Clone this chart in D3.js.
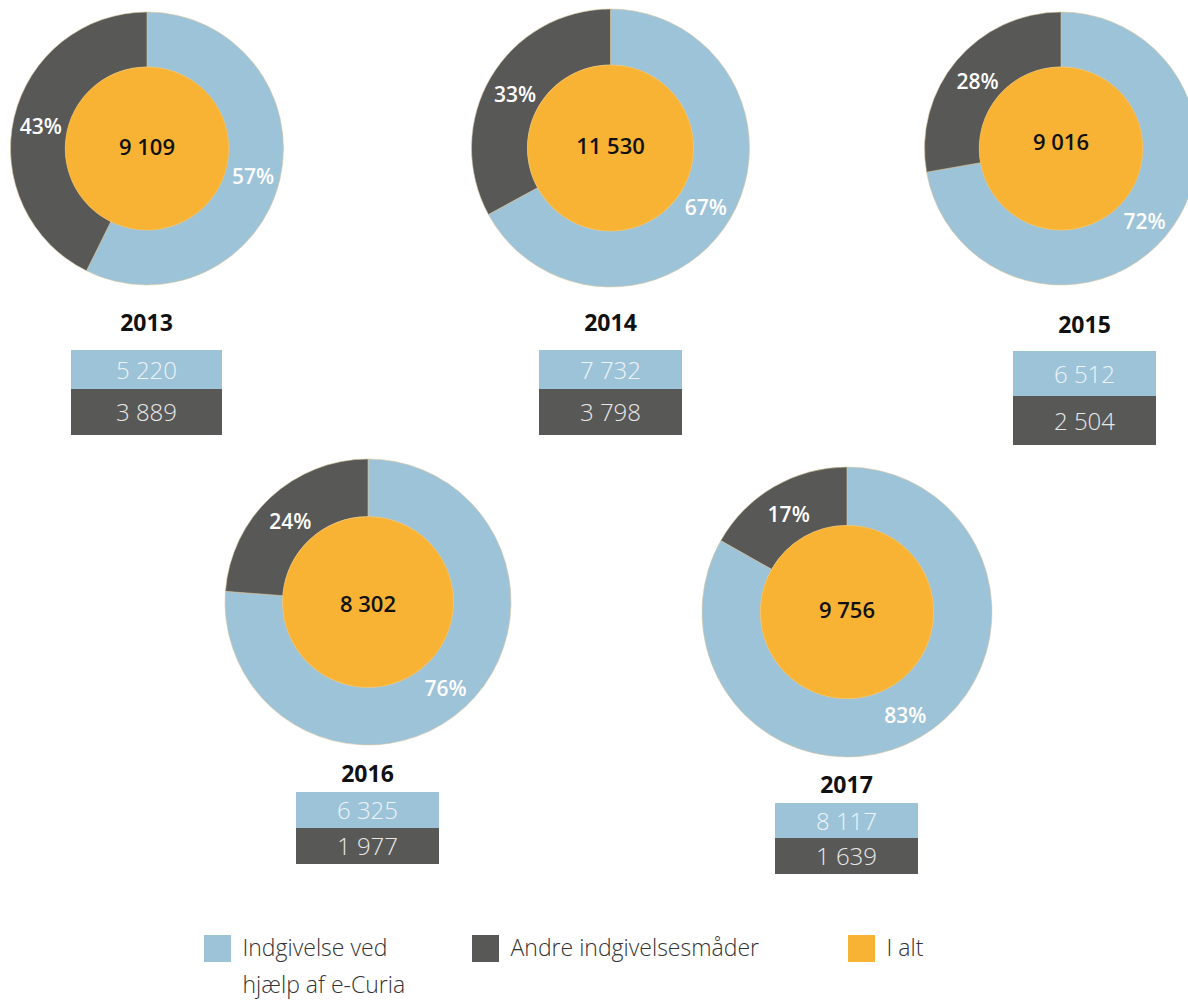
<!DOCTYPE html>
<html>
<head>
<meta charset="utf-8">
<script src="https://cdn.jsdelivr.net/npm/d3@7"></script>
<style>
  body { margin: 0; background: #fff; }
  text { font-family: "Open Sans", "Noto Sans", sans-serif; }
</style>
</head>
<body>
<div id="chart"></div>
<script>
// data
const years = ["2013", "2014", "2015", "2016", "2017"];
const ecuria = [5220, 7732, 6512, 6325, 8117];
const other = [3889, 3798, 2504, 1977, 1639];
const totals = [9109, 11530, 9016, 8302, 9756];
const legendLabels = [["Indgivelse ved", "hjælp af e-Curia"], ["Andre indgivelsesmåder"], ["I alt"]];

const colors = { ecuria: "#9dc3d9", other: "#585857", total: "#f8b334" };

// where each donut + little table sits (no = nudge of the centre number)
const layout = [
    { cx: 147, cy: 148.5, r: 136.5, no: -1, tx: 71, tw: 151, yearY: 331, ty: 350, h1: 39, h2: 46 },
    { cx: 610.5, cy: 148, r: 139, no: -2, tx: 539, tw: 143, yearY: 331, ty: 350, h1: 39, h2: 46 },
    { cx: 1061, cy: 148.5, r: 136.5, no: -6, tx: 1013, tw: 143, yearY: 333, ty: 351, h1: 45, h2: 49 },
    { cx: 368, cy: 602, r: 143, no: 2, tx: 296, tw: 143, yearY: 782, ty: 792, h1: 36, h2: 36 },
    { cx: 847, cy: 612, r: 145, no: -1.5, tx: 775, tw: 143, yearY: 793, ty: 803, h1: 35, h2: 36 }
];

const width = 1188, height = 1000;
const loc = d3.formatLocale({ decimal: ",", thousands: " ", grouping: [3], currency: ["", ""] });
const fmt = loc.format(",d");

const svg = d3.select("#chart").append("svg")
    .attr("width", width)
    .attr("height", height);

const pie = d3.pie().sort(null).value(d => d.v);

years.forEach(function (yr, i) {
    let L = layout[i];
    let inner = L.r * 0.597;
    let g = svg.append("g").attr("transform", `translate(${L.cx},${L.cy})`);
    let slices = pie([
        { key: "ecuria", v: ecuria[i] },
        { key: "other", v: other[i] }
    ]);
    let arc = d3.arc().innerRadius(inner).outerRadius(L.r);
    g.selectAll("path.ring")
        .data(slices)
        .join("path")
        .attr("class", "ring")
        .attr("d", arc)
        .attr("fill", d => colors[d.data.key])
        .attr("stroke", "#d6c7a0")
        .attr("stroke-width", 0.6);

    // orange centre, also a (single slice) pie
    let centre = pie([{ key: "total", v: totals[i] }]);
    g.selectAll("path.centre")
        .data(centre)
        .join("path")
        .attr("class", "centre")
        .attr("d", d3.arc().innerRadius(0).outerRadius(inner))
        .attr("fill", colors.total)
        .attr("stroke", "#f6c262")
        .attr("stroke-width", 0.5);

    g.append("text")
        .attr("text-anchor", "middle")
        .attr("y", L.no)
        .attr("dy", "0.35em")
        .style("font-size", "22px")
        .style("font-weight", 600)
        .attr("fill", "#111")
        .text(fmt(totals[i]));

    // percent labels at slice centroids
    g.selectAll("text.pct")
        .data(slices)
        .join("text")
        .attr("class", "pct")
        .attr("transform", d => `translate(${arc.centroid(d)})`)
        .attr("text-anchor", "middle")
        .attr("dy", "0.5em")
        .style("font-size", "21px")
        .style("font-weight", 600)
        .attr("fill", "#fff")
        .text(d => Math.round(100 * d.data.v / totals[i]) + "%");

    // year + table
    svg.append("text")
        .attr("x", L.tx + L.tw / 2)
        .attr("y", L.yearY)
        .attr("text-anchor", "middle")
        .style("font-size", "23px")
        .style("font-weight", 700)
        .attr("fill", "#111")
        .text(yr);

    let rows = [
        { v: ecuria[i], c: colors.ecuria, y: L.ty, h: L.h1, t: "#eef3f7" },
        { v: other[i], c: colors.other, y: L.ty + L.h1, h: L.h2, t: "#e8e8e8" }
    ];
    rows.forEach(function (rw) {
        svg.append("rect")
            .attr("x", L.tx).attr("y", rw.y)
            .attr("width", L.tw).attr("height", rw.h)
            .attr("fill", rw.c);
        svg.append("text")
            .attr("x", L.tx + L.tw / 2)
            .attr("y", rw.y + rw.h / 2 + 9)
            .attr("text-anchor", "middle")
            .style("font-size", "24px")
            .style("font-weight", 300)
            .attr("fill", rw.t)
            .text(fmt(rw.v));
    });
});

// legend
const legX = [204, 472, 848];
const legKeys = ["ecuria", "other", "total"];
legKeys.forEach(function (k, i) {
    svg.append("rect")
        .attr("x", legX[i]).attr("y", 935)
        .attr("width", 27).attr("height", 27)
        .attr("fill", colors[k]);
    let t = svg.append("text")
        .attr("x", legX[i] + 38.5)
        .attr("y", 956)
        .style("font-size", "23px")
        .style("font-weight", 300)
        .attr("fill", "#333");
    legendLabels[i].forEach(function (line, j) {
        t.append("tspan")
            .attr("x", legX[i] + 38.5)
            .attr("dy", j == 0 ? 0 : 37)
            .text(line);
    });
});
</script>
</body>
</html>
